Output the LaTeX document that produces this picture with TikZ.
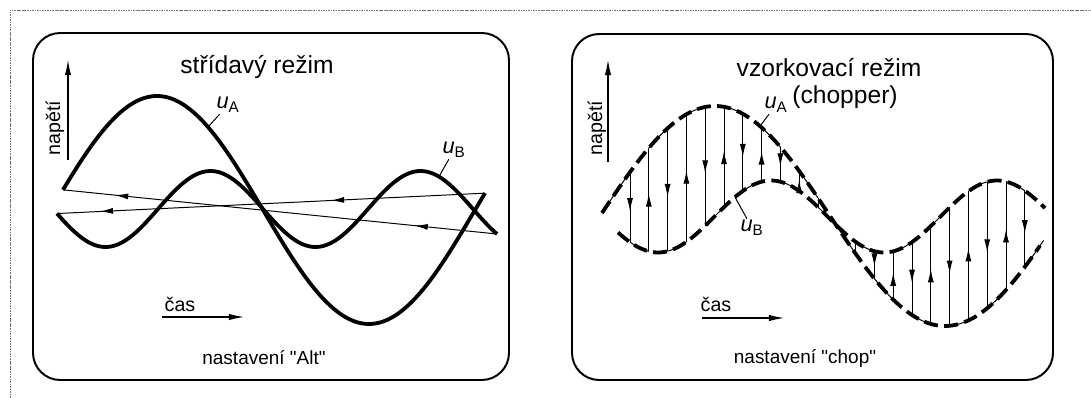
\documentclass[tikz,border=0pt]{standalone}
\usepackage{fontspec}
\setmainfont{Liberation Sans}[Ligatures=TeXOff]
\usetikzlibrary{arrows.meta,decorations.markings}

\begin{document}
\begin{tikzpicture}[
  x=0.025cm, y=-0.025cm,
  frame/.style={black!55, line width=0.6pt, dash pattern=on 1.2pt off 0.6pt},
  panel/.style={draw, line width=1.4pt, rounded corners=0.68cm},
  wave/.style={line width=2.7pt},
  dwave/.style={line width=2.7pt, dash pattern=on 10pt off 4.5pt},
  beam/.style={line width=0.7pt},
  axis/.style={line width=0.75pt, -{Latex[length=3.8mm,width=1.6mm]}},
  >={Latex[length=3.3mm,width=1.5mm]},
  midarrow/.style={decoration={markings, mark=at position #1 with {\arrow{>}}}, postaction={decorate}},
  twoarrows/.style 2 args={decoration={markings, mark=at position #1 with {\arrow{>}}, mark=at position #2 with {\arrow{>}}}, postaction={decorate}},
  ttl/.style={font=\fontsize{17.5}{21}\selectfont},
  lbl/.style={font=\fontsize{14}{16}\selectfont},
  btm/.style={font=\fontsize{13.5}{16}\selectfont},
  ulbl/.style={font=\fontsize{15.5}{18}\selectfont, inner sep=1pt},
  declare function={
    uA(\t)=210+114*sin((\t-263)/424*360);
    uB(\t)=209+38*sin((\t-263)/210*360);
    uAR(\t)=216-110*cos((\t-715)/460*360);
    uBR(\t)=216.5+36*cos((\t-658)/226*360);
  },
]
\useasboundingbox (0,0) rectangle (1091,398);

% ============ outer frame (top and left only) ============
\draw[frame] (10,398) -- (10,10) -- (1091,10);

% ============ panel boxes ============
\draw[panel] (33,33) rectangle (509,380);
\draw[panel] (572,34) rectangle (1053,380);

% ===================== LEFT: alternating mode =====================
\node[ttl] (ttlA) at (257,67) {střídavý režim};
\node[lbl, rotate=90] (napA) at (55,128) {napětí};
\coordinate (yA0) at (68,160);
\coordinate (yA1) at (68,60);
\draw[axis] (yA0) -- (yA1);

\node[lbl] (casA) at (180,304) {čas};
\coordinate (tA0) at (162,317);
\coordinate (tA1) at (244,317);
\draw[axis] (tA0) -- (tA1);

\node[btm] (setA) at (264,358) {nastavení "Alt"};

% curve end points
\coordinate (uAbeg) at (63,{uA(63)});
\coordinate (uAend) at (485,{uA(485)});
\coordinate (uBbeg) at (57,{uB(57)});
\coordinate (uBend) at (497,{uB(497)});

% retrace lines
\draw[beam, twoarrows={0.36}{0.9}] (uAend) -- (uBbeg);
\draw[beam, twoarrows={0.19}{0.88}] (uBend) -- (uAbeg);

% u_A and u_B
\draw[wave] plot[domain=63:485, samples=140, smooth] (\x,{uA(\x)});
\draw[wave] plot[domain=57:497, samples=140, smooth] (\x,{uB(\x)});

% labels with leaders
\node[ulbl] (luA) at (228,105) {\textit{u}\textsubscript{A}};
\coordinate (uAtip) at (208,{uA(208)});
\draw[beam] (luA) -- (uAtip);
\node[ulbl] (luB) at (454,150) {\textit{u}\textsubscript{B}};
\coordinate (uBtip) at (439,{uB(439)});
\draw[beam] (luB) -- (uBtip);

% ===================== RIGHT: chopper mode =====================
\node[ttl] (ttlB) at (829,68) {vzorkovací režim};
\node[ttl] (ttlB2) at (845,97) {(chopper)};
\node[lbl, rotate=90] (napB) at (597,128) {napětí};
\coordinate (yB0) at (608,162);
\coordinate (yB1) at (608,60);
\draw[axis] (yB0) -- (yB1);

\node[lbl] (casB) at (716,304) {čas};
\coordinate (tB0) at (702,318);
\coordinate (tB1) at (784,318);
\draw[axis] (tB0) -- (tB1);

\node[btm] (setB) at (805,358) {nastavení "chop"};

% beam trace: A -> B jumps (even), B -> A jumps (odd)
\draw[beam] plot[domain=602:630, samples=6] (\x,{uAR(\x)});
\foreach \i in {0,...,21} {
  \pgfmathsetmacro\xa{630+18.8*\i}
  \pgfmathsetmacro\xb{\xa+18.8}
  \pgfmathsetmacro\ya{uAR(\xa)}
  \pgfmathsetmacro\yb{uBR(\xa)}
  \pgfmathtruncatemacro\odd{mod(\i,2)}
  \pgfmathtruncatemacro\big{abs(\ya-\yb)>15 ? 1 : 0}
  \ifnum\odd=0
    \pgfmathsetmacro\ys{\ya}\pgfmathsetmacro\ye{\yb}
    \draw[beam] plot[domain=\xa:\xb, samples=6] (\x,{uBR(\x)});
  \else
    \pgfmathsetmacro\ys{\yb}\pgfmathsetmacro\ye{\ya}
    \draw[beam] plot[domain=\xa:\xb, samples=6] (\x,{uAR(\x)});
  \fi
  \ifnum\big=1
    \draw[beam, midarrow=0.56] (\xa,\ys) -- (\xa,\ye);
  \else
    \draw[beam] (\xa,\ys) -- (\xa,\ye);
  \fi
}

% u_A and u_B (dashed)
\draw[dwave] plot[domain=602:1040, samples=150, smooth] (\x,{uAR(\x)});
\draw[dwave] plot[domain=618:1045, samples=150, smooth] (\x,{uBR(\x)});

% labels with leaders
\node[ulbl] (luAR) at (776,105) {\textit{u}\textsubscript{A}};
\coordinate (uARtip) at (760,{uAR(760)});
\draw[beam] (luAR) -- (uARtip);
\node[ulbl] (luBR) at (752,228) {\textit{u}\textsubscript{B}};
\coordinate (uBRtip) at (735,{uBR(735)});
\draw[beam] (luBR) -- (uBRtip);

\end{tikzpicture}
\end{document}
